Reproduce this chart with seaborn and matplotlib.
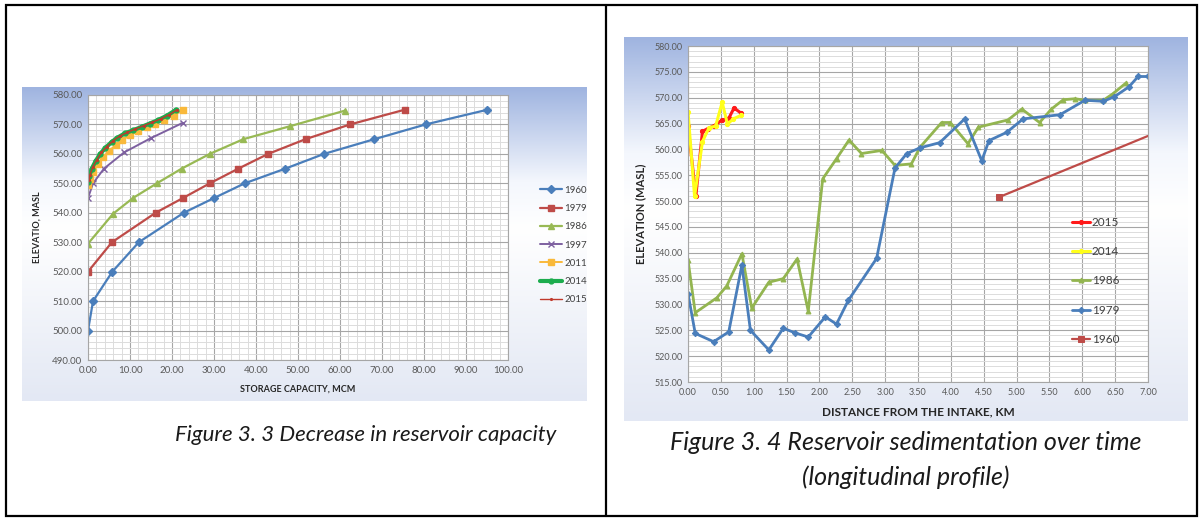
import numpy as np
import matplotlib
matplotlib.use("Agg")
import matplotlib.pyplot as plt
import seaborn as sns
from matplotlib.ticker import MultipleLocator, FormatStrFormatter
from matplotlib.colors import LinearSegmentedColormap
from matplotlib.patches import Rectangle

sns.set_style("white")
plt.rcParams["font.family"] = ["Lato", "DejaVu Sans"]

W, H = 1203, 520

# ---- Figure 3.3: elevation vs storage capacity (MCM) ----
cap_1960 = [0.0, 1.2, 5.8, 12.1, 22.8, 30.0, 37.3, 47.0, 56.2, 68.2, 80.4, 95.1]
elev_1960 = [500, 510, 520, 530, 540, 545, 550, 555, 560, 565, 570, 575]

cap_1979 = [0.0, 5.7, 16.1, 22.6, 29.0, 35.8, 42.9, 51.8, 62.4, 75.4]
elev_1979 = [520, 530, 540, 545, 550, 555, 560, 565, 570, 575]

cap_1986 = [0.0, 6.0, 10.7, 16.4, 22.3, 29.0, 37.0, 48.1, 61.2]
elev_1986 = [529.5, 539.7, 545, 550, 555, 560, 565, 569.4, 574.7]

cap_1997 = [0.0, 1.2, 3.8, 8.6, 14.9, 22.5]
elev_1997 = [545, 550, 555, 560.5, 565.3, 570.5]

cap_2011 = [0.0, 0.5, 1.3, 2.4, 3.6, 5.0, 6.6, 8.2, 10.0, 12.0, 14.0, 16.0, 18.2, 20.4, 22.6]
elev_2011 = [549.5, 551.5, 554.0, 556.5, 558.8, 561.0, 563.0, 564.8, 566.3, 567.8, 569.0, 570.3, 571.6, 573.0, 575.0]

cap_2014 = [0.0, 0.3, 0.9, 1.8, 2.9, 4.1, 5.6, 7.0, 8.8, 10.7, 12.8, 14.7, 16.7, 18.8, 21.0]
elev_2014 = [550.5, 552.5, 555.0, 557.5, 560.0, 562.0, 564.0, 565.5, 567.0, 568.0, 569.2, 570.3, 571.5, 573.0, 575.0]

cap_2015 = [0.2, 0.5, 1.1, 2.1, 3.2, 4.5, 6.0, 7.5, 9.4, 11.3, 13.3, 15.3, 17.3, 19.3, 21.2]
elev_2015 = [551.0, 553.0, 555.5, 558.0, 560.5, 562.5, 564.5, 566.0, 567.3, 568.5, 569.6, 570.7, 571.9, 573.3, 575.0]

# ---- Figure 3.4: longitudinal profile (km vs masl) ----
dist_2015 = [0.00, 0.12, 0.22, 0.30, 0.40, 0.52, 0.62, 0.70, 0.81]
bed_2015 = [564.5, 551.0, 563.5, 564.0, 564.6, 565.7, 566.0, 568.0, 567.0]

dist_2014 = [0.00, 0.10, 0.22, 0.32, 0.42, 0.52, 0.60, 0.69, 0.81]
bed_2014 = [567.3, 550.9, 561.5, 564.2, 564.5, 569.1, 564.9, 565.9, 566.6]

dist_1986 = [0.00, 0.11, 0.44, 0.59, 0.82, 0.97, 1.23, 1.45, 1.66, 1.83, 2.05, 2.26, 2.45, 2.64,
             2.95, 3.15, 3.40, 3.53, 3.86, 3.99, 4.26, 4.42, 4.87, 5.08, 5.35, 5.53, 5.71, 5.89,
             6.04, 6.32, 6.47, 6.67]
bed_1986 = [538.6, 528.4, 531.3, 533.6, 539.8, 529.3, 534.3, 535.0, 538.8, 528.7, 554.3, 558.2, 561.8, 559.2,
            559.8, 556.9, 557.2, 560.4, 565.2, 565.2, 561.1, 564.3, 565.7, 567.8, 565.2, 567.8, 569.6, 569.8,
            569.5, 569.5, 570.8, 572.9]

dist_1979 = [0.00, 0.11, 0.39, 0.62, 0.82, 0.95, 1.23, 1.45, 1.63, 1.83, 2.09, 2.26, 2.44, 2.87,
             3.15, 3.33, 3.53, 3.83, 4.21, 4.47, 4.58, 4.85, 5.10, 5.66, 6.04, 6.32, 6.49, 6.71, 6.85, 7.00]
bed_1979 = [532.1, 524.4, 522.8, 524.7, 537.6, 525.0, 521.2, 525.4, 524.5, 523.7, 527.6, 526.2, 530.8, 538.9,
            556.4, 559.2, 560.3, 561.3, 565.9, 557.8, 561.7, 563.3, 565.9, 566.7, 569.5, 569.3, 570.2, 572.1, 574.1, 574.1]

dist_1960 = [4.74, 7.00]
bed_1960 = [550.8, 562.6]

GRID_MAJOR = "#a6a6a6"
GRID_MINOR = "#dcdcdc"
TICK_COLOR = "#595959"

fig = plt.figure(figsize=(W / 100, H / 100), dpi=100)


def px_axes(x0, y0, x1, y1, **kw):
    return fig.add_axes([x0 / W, 1 - y1 / H, (x1 - x0) / W, (y1 - y0) / H], **kw)


# soft Excel-style gradient panels behind both charts
panel_cmap = LinearSegmentedColormap.from_list(
    "panel", [(0.0, "#9fb4e0"), (0.30, "#f4f7fd"), (0.45, "#ffffff"), (1.0, "#e3e8f4")])
grad = np.linspace(0, 1, 256).reshape(-1, 1)
for (x0, y0, x1, y1) in [(22, 87, 587, 401), (624, 37, 1188, 421)]:
    bg = px_axes(x0, y0, x1, y1, zorder=0)
    bg.imshow(grad, aspect="auto", cmap=panel_cmap, extent=(0, 1, 0, 1), origin="upper")
    bg.set_axis_off()


def style_axes(ax, xmaj, xmin, ymaj, ymin, fs):
    ax.set_facecolor("white")
    ax.xaxis.set_major_locator(MultipleLocator(xmaj))
    ax.xaxis.set_minor_locator(MultipleLocator(xmin))
    ax.yaxis.set_major_locator(MultipleLocator(ymaj))
    ax.yaxis.set_minor_locator(MultipleLocator(ymin))
    ax.xaxis.set_major_formatter(FormatStrFormatter("%.2f"))
    ax.yaxis.set_major_formatter(FormatStrFormatter("%.2f"))
    ax.grid(True, which="major", color=GRID_MAJOR, lw=0.8)
    ax.grid(True, which="minor", color=GRID_MINOR, lw=0.7)
    ax.set_axisbelow(True)
    ax.tick_params(which="both", length=0, labelsize=fs, colors=TICK_COLOR, pad=4)
    for s in ax.spines.values():
        s.set_color(GRID_MAJOR)
        s.set_linewidth(0.8)


# ---------------- left chart ----------------
axl = px_axes(88, 95, 508, 360, zorder=2)
left_series = [
    ("1960", cap_1960, elev_1960, "#4a7ebb", "D", 4.0, 1.6),
    ("1979", cap_1979, elev_1979, "#be4b48", "s", 5.0, 1.6),
    ("1986", cap_1986, elev_1986, "#98b954", "^", 5.0, 1.6),
    ("1997", cap_1997, elev_1997, "#7d60a0", "x", 5.0, 1.4),
    ("2011", cap_2011, elev_2011, "#f9b93a", "s", 4.0, 1.4),
    ("2014", cap_2014, elev_2014, "#1cac4e", "o", 3.5, 3.0),
    ("2015", cap_2015, elev_2015, "#c0392b", ".", 2.5, 1.0),
]
for name, xs, ys, col, mk, ms, lw in left_series:
    sns.lineplot(x=xs, y=ys, ax=axl, color=col, marker=mk, markersize=ms, lw=lw,
                 markeredgecolor=col, markeredgewidth=1.0, sort=False, estimator=None,
                 label=name, legend=False)
axl.set_xlim(0, 100)
axl.set_ylim(490, 580)
style_axes(axl, 10, 2, 10, 2, 7)
axl.set_xlabel("STORAGE CAPACITY, MCM", fontsize=6.5, fontweight="bold", color="#262626", labelpad=7)
axl.set_ylabel("ELEVATIO, MASL", fontsize=6.5, fontweight="bold", color="#262626", labelpad=8)
h, l = axl.get_legend_handles_labels()
axl.legend(h, l, loc="center left", bbox_to_anchor=(535 / W, 1 - 245 / H),
           bbox_transform=fig.transFigure, frameon=False, fontsize=7,
           handlelength=2.3, handletextpad=0.2, labelspacing=0.95, borderpad=0,
           labelcolor="#404040")

# ---------------- right chart ----------------
axr = px_axes(688, 46, 1148, 382, zorder=2)
right_series = [
    ("2015", dist_2015, bed_2015, "#ff1a1a", "o", 3.0, 2.2, None),
    ("2014", dist_2014, bed_2014, "#ffff1a", "o", 3.0, 2.2, None),
    ("1986", dist_1986, bed_1986, "#93b550", "^", 3.5, 2.0, None),
    ("1979", dist_1979, bed_1979, "#4a7ebb", "D", 3.2, 2.0, None),
    ("1960", dist_1960, bed_1960, "#be4b48", "s", 5.0, 1.6, [0]),
]
for name, xs, ys, col, mk, ms, lw, every in right_series:
    kw = dict(markevery=every) if every is not None else {}
    sns.lineplot(x=xs, y=ys, ax=axr, color=col, marker=mk, markersize=ms, lw=lw,
                 markeredgecolor=col, sort=False, estimator=None, label=name, legend=False,
                 **kw)
axr.set_xlim(0, 7)
axr.set_ylim(515, 580)
style_axes(axr, 0.5, 0.5, 5, 1, 6.5)
axr.set_xlabel("DISTANCE FROM THE INTAKE, KM", fontsize=8.5, fontweight="bold", color="#262626", labelpad=7)
axr.set_ylabel("ELEVATION (MASL)", fontsize=8, fontweight="bold", color="#262626", labelpad=6)
h, l = axr.get_legend_handles_labels()
axr.legend(h, l, loc="center left", bbox_to_anchor=(1066 / W, 1 - 281 / H),
           bbox_transform=fig.transFigure, frameon=False, fontsize=8.5,
           handlelength=1.5, handletextpad=0.2, labelspacing=1.55, borderpad=0,
           labelcolor="#404040")

# ---------------- table frame and captions ----------------
frame = fig.add_axes([0, 0, 1, 1], zorder=5)
frame.set_xlim(0, W)
frame.set_ylim(H, 0)
frame.set_axis_off()
frame.patch.set_alpha(0)
frame.add_patch(Rectangle((6, 5), 1191, 511, fill=False, ec="black", lw=1.6))
frame.plot([606, 606], [5, 516], color="black", lw=1.6)

frame.text(366, 435, "Figure 3. 3 Decrease in reservoir capacity", ha="center", va="center",
           fontsize=16, style="italic", color="#1a1a1a")
frame.text(906, 443, "Figure 3. 4 Reservoir sedimentation over time", ha="center", va="center",
           fontsize=18, style="italic", color="#1a1a1a")
frame.text(906, 477, "(longitudinal profile)", ha="center", va="center",
           fontsize=18, style="italic", color="#1a1a1a")

fig.savefig("out.png", dpi=100)
